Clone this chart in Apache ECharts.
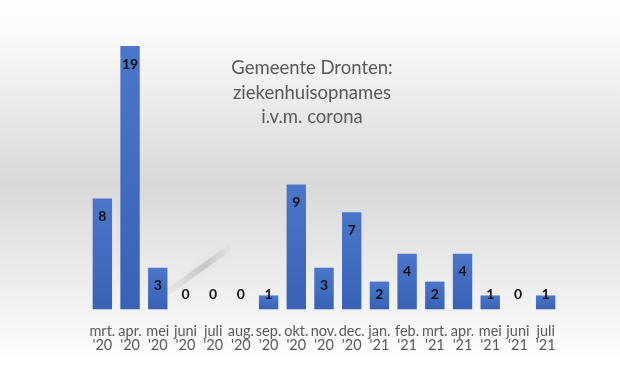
<!DOCTYPE html>
<html>
<head>
<meta charset="utf-8">
<script src="https://cdn.jsdelivr.net/npm/echarts@6/dist/echarts.min.js"></script>
<style>html,body{margin:0;padding:0;background:#fff;}#c{width:620px;height:365px;}</style>
</head>
<body>
<div id="c"></div>
<script>
const months = ["mrt.\n'20","apr.\n'20","mei\n'20","juni\n'20","juli\n'20","aug.\n'20","sep.\n'20","okt.\n'20","nov.\n'20","dec.\n'20","jan.\n'21","feb.\n'21","mrt.\n'21","apr.\n'21","mei\n'21","juni\n'21","juli\n'21"];
const admissions = [8,19,3,0,0,0,1,9,3,7,2,4,2,4,1,0,1];
const titleLines = ["Gemeente Dronten:","ziekenhuisopnames","i.v.m. corona"];

const chart = echarts.init(document.getElementById('c'));
const data = admissions.map(v => {
  const small = v < 3;
  return {
    value: v,
    label: small ? {position:'insideBottom', distance: 8} : {position:'insideTop', distance: 11}
  };
});
chart.setOption({
  backgroundColor: {
    type:'linear', x:0, y:0, x2:0, y2:1,
    colorStops:[
      {offset:0, color:'#ffffff'},
      {offset:0.1, color:'#fafafa'},
      {offset:0.5, color:'#d9d9d9'},
      {offset:0.8, color:'#efefef'},
      {offset:1, color:'#ffffff'}
    ]
  },
  animation:false,
  graphic:[{
    type:'line', silent:true, z:-1,
    shape:{x1:168, y1:292, x2:228, y2:249},
    style:{
      stroke:{type:'linear', x:0, y:1, x2:1, y2:0, colorStops:[
        {offset:0, color:'rgba(140,140,140,0.05)'},
        {offset:0.6, color:'rgba(130,130,130,0.3)'},
        {offset:1, color:'rgba(160,160,160,0.05)'}]},
      lineWidth:6, shadowBlur:8, shadowColor:'rgba(120,120,120,0.3)', lineCap:'round'
    }
  }],
  title:{
    text: titleLines.join('\n'),
    left: 307, top: 51, textAlign:'center',
    textStyle:{fontFamily:'Lato', fontSize:18.5, fontWeight:'normal', color:'#595959', lineHeight:24.5}
  },
  grid:{left:88.5, right:60.5, top:46, bottom:55.7},
  xAxis:{
    type:'category', data: months,
    axisLine:{show:false}, axisTick:{show:false},
    axisLabel:{interval:0, margin:15, fontFamily:'Lato', fontSize:14.5, color:'#595959', lineHeight:14}
  },
  yAxis:{type:'value', min:0, max:19, show:false, splitLine:{show:false}},
  series:[{
    type:'bar', data: data, barWidth:'70%',
    itemStyle:{
      color:{type:'linear', x:0, y:0, x2:0, y2:1, colorStops:[{offset:0,color:'#4a77cb'},{offset:1,color:'#3862b4'}]}
    },
    label:{show:true, fontFamily:'Lato', fontWeight:'bold', fontSize:14, color:'#111', lineHeight:14}
  }]
});
</script>
</body>
</html>
